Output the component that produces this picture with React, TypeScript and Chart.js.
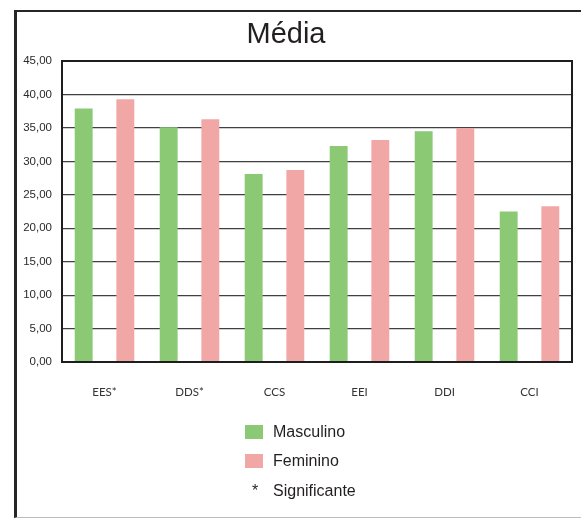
import { useEffect, useRef } from 'react';
import { Chart, registerables } from 'chart.js';

Chart.register(...registerables);

// Mean scores per scale, by sex
const categories = ['EES*', 'DDS*', 'CCS', 'EEI', 'DDI', 'CCI'];
const masculino = [37.9, 35.1, 28.1, 32.3, 34.5, 22.5];
const feminino = [39.3, 36.3, 28.7, 33.2, 35.0, 23.3];
const seriesNames = ['Masculino', 'Feminino'];
const seriesColors = ['#8BC974', '#F2A7A7'];
const yTickLabels = ['0,00', '5,00', '10,00', '15,00', '20,00', '25,00', '30,00', '35,00', '40,00', '45,00'];
const titleText = 'Média';
const noteMark = '*';
const noteText = 'Significante';

const FONT = "'Liberation Sans', Arial, sans-serif";
const INK = '#231f20';

// Dark frame around the plotting area
const plotFrame = {
  id: 'plotFrame',
  afterDatasetsDraw(chart: any) {
    const { ctx, chartArea: a } = chart;
    ctx.save();
    ctx.strokeStyle = '#1e1e1e';
    ctx.lineWidth = 2;
    ctx.strokeRect(a.left, a.top, a.right - a.left, a.bottom - a.top);
    ctx.restore();
  },
};

// Stacked legend under the axis, plus the significance note
const legendBlock = {
  id: 'legendBlock',
  afterDraw(chart: any) {
    const { ctx } = chart;
    const boxX = 245;
    const textX = 273;
    const rows = [432, 461];
    ctx.save();
    ctx.font = `16px ${FONT}`;
    ctx.textBaseline = 'middle';
    ctx.textAlign = 'left';
    chart.data.datasets.forEach((ds: any, i: number) => {
      ctx.fillStyle = ds.backgroundColor;
      ctx.fillRect(boxX, rows[i] - 7, 18, 14);
      ctx.fillStyle = INK;
      ctx.fillText(ds.label, textX, rows[i] + 1);
    });
    ctx.fillStyle = INK;
    ctx.textAlign = 'center';
    ctx.fillText(noteMark, 255, 492);
    ctx.textAlign = 'left';
    ctx.fillText(noteText, textX, 492);
    ctx.restore();
  },
};

export default function App() {
  const canvasRef = useRef<HTMLCanvasElement | null>(null);

  useEffect(() => {
    const canvas = canvasRef.current;
    if (!canvas) return;
    const chart = new Chart(canvas, {
      type: 'bar',
      data: {
        labels: categories,
        datasets: [
          { label: seriesNames[0], data: masculino, backgroundColor: seriesColors[0] },
          { label: seriesNames[1], data: feminino, backgroundColor: seriesColors[1] },
        ],
      },
      options: {
        responsive: false,
        animation: false,
        devicePixelRatio: 1,
        layout: { padding: { top: 0, right: 9, bottom: 0, left: 0 } },
        datasets: {
          bar: { categoryPercentage: 0.98, barPercentage: 0.43 },
        },
        plugins: {
          legend: { display: false },
          tooltip: { enabled: false },
          title: {
            display: true,
            text: titleText,
            color: INK,
            font: { family: FONT, size: 29, weight: 'normal', lineHeight: 1.2 },
            padding: { top: 18, bottom: 8.2 },
          },
        },
        scales: {
          x: {
            grid: { display: false },
            border: { display: false },
            ticks: {
              color: '#333',
              padding: 15,
              font: { family: "Lato, 'Liberation Sans', sans-serif", size: 11.5 },
              maxRotation: 0,
            },
            afterFit(scale: any) {
              scale.height = 156;
            },
          },
          y: {
            min: 0,
            max: 45,
            border: { display: false },
            grid: { color: '#404040', lineWidth: 1.2, drawTicks: false },
            ticks: {
              stepSize: 5,
              padding: 10,
              color: '#2a2a2a',
              font: { family: FONT, size: 11.5 },
              callback: (_v: any, i: number) => yTickLabels[i],
            },
            afterFit(scale: any) {
              scale.width = 62;
            },
          },
        },
      },
      plugins: [plotFrame, legendBlock],
    });
    return () => chart.destroy();
  }, []);

  return (
    <div style={{ position: 'fixed', left: 0, top: 0, width: 581, height: 518, background: '#fff' }}>
      <div
        style={{
          position: 'absolute',
          left: 14,
          top: 10,
          width: 567,
          height: 508,
          boxSizing: 'border-box',
          borderLeft: '3px solid #262626',
          borderTop: '2px solid #262626',
          borderBottom: '1px solid #bdbdbd',
        }}
      />
      <canvas ref={canvasRef} width={581} height={518} style={{ position: 'absolute', left: 0, top: 0 }} />
    </div>
  );
}
